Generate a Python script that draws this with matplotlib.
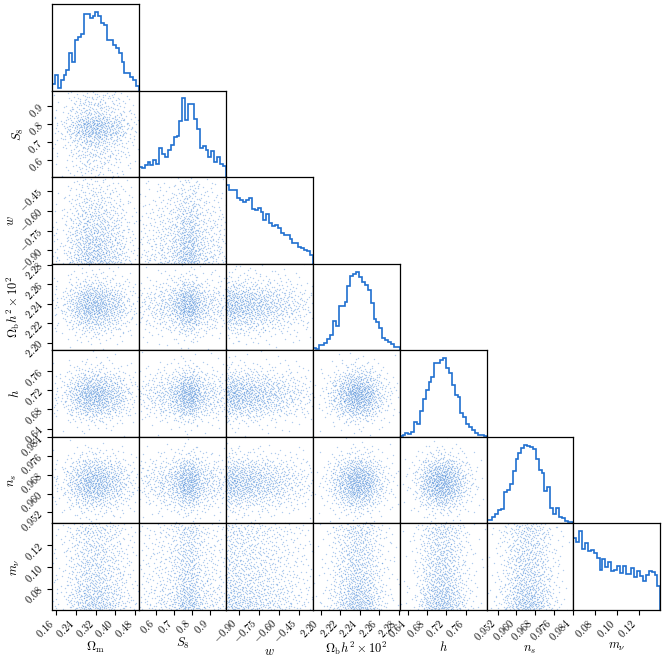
import numpy as np
import matplotlib
matplotlib.use('Agg')
import matplotlib.pyplot as plt

plt.rcParams['mathtext.fontset'] = 'cm'
plt.rcParams['font.family'] = ['DejaVu Serif']

# parameter names, plot ranges and tick labels
labels = [r'$\Omega_{\rm m}$', r'$S_8$', r'$w$', r'$\Omega_{\rm b}h^2\times10^2$',
          r'$h$', r'$n_s$', r'$m_\nu$']
ranges = [(0.142, 0.496), (0.504, 0.987), (-1.0, -0.345), (2.192, 2.281),
          (0.623, 0.803), (0.9473, 0.9842), (0.0604, 0.1398)]
ticks = [['0.16', '0.24', '0.32', '0.40', '0.48'],
         ['0.6', '0.7', '0.8', '0.9'],
         ['-0.90', '-0.75', '-0.60', '-0.45'],
         ['2.20', '2.22', '2.24', '2.26', '2.28'],
         ['0.64', '0.68', '0.72', '0.76'],
         ['0.952', '0.960', '0.968', '0.976', '0.984'],
         ['0.08', '0.10', '0.12']]

# marginal histograms (30 bins each over the plot range), heights read by eye
omega_m_counts = [6, 15, 2, 10, 15, 20, 36, 27, 48, 51, 54, 73, 73, 69, 71,
                  75, 71, 64, 62, 48, 48, 43, 41, 36, 27, 17, 17, 13, 10, 4]
s8_counts = [10, 9, 12, 15, 12, 17, 13, 28, 22, 19, 26, 31, 39, 40, 54,
             76, 55, 71, 71, 56, 46, 28, 30, 26, 19, 25, 15, 19, 13, 11]
w_counts = [75, 70, 70, 70, 63, 61, 59, 61, 63, 52, 51, 53, 49, 42, 47,
            39, 36, 37, 34, 29, 27, 27, 24, 20, 20, 16, 15, 13, 12, 8]
omega_b_counts = [2, 1, 5, 5, 7, 11, 15, 28, 23, 43, 43, 47, 62, 72, 74,
                  76, 71, 66, 63, 58, 46, 30, 27, 22, 12, 10, 8, 6, 3, 3]
h_counts = [1, 2, 4, 3, 5, 14, 12, 25, 36, 45, 52, 57, 70, 70, 73,
            75, 66, 61, 49, 40, 38, 23, 19, 12, 9, 7, 4, 2, 2, 1]
ns_counts = [3, 3, 6, 9, 13, 14, 30, 32, 38, 51, 62, 68, 73, 76, 75,
             74, 72, 62, 52, 49, 31, 35, 15, 9, 15, 6, 5, 2, 1, 1]
mnu_counts = [69, 65, 75, 58, 64, 56, 57, 54, 50, 38, 49, 41, 46, 37, 38,
              42, 35, 42, 34, 34, 40, 31, 37, 32, 28, 33, 37, 36, 33, 23]
counts = [omega_m_counts, s8_counts, w_counts, omega_b_counts,
          h_counts, ns_counts, mnu_counts]

n_points = 900
blue = '#1f6fd0'


def radical_inverse(n, base):
    inv, f = 0.0, 1.0 / base
    while n > 0:
        inv += f * (n % base)
        n //= base
        f /= base
    return inv


def quantiles(cnt, lo, hi, q):
    # inverse of the cumulative histogram
    edges = np.linspace(lo, hi, len(cnt) + 1)
    cdf = np.concatenate([[0.0], np.cumsum(cnt)]) / np.sum(cnt)
    return np.interp(q, cdf, edges)


def panel_points(i, j):
    # each scatter panel: 2D Halton (bases 2, 3) mapped through the two marginals
    start = 1 + 1000 * (i * 7 + j)
    idx = range(start, start + n_points)
    qx = np.array([radical_inverse(k, 2) for k in idx])
    qy = np.array([radical_inverse(k, 3) for k in idx])
    x = quantiles(counts[j], ranges[j][0], ranges[j][1], qx)
    y = quantiles(counts[i], ranges[i][0], ranges[i][1], qy)
    return x, y


n = len(labels)
fig, axes = plt.subplots(n, n, figsize=(6.64, 6.64), dpi=100)
fig.subplots_adjust(left=0.0783, right=0.9945, bottom=0.0813, top=0.994,
                    wspace=0, hspace=0)

for i in range(n):
    for j in range(n):
        ax = axes[i, j]
        if j > i:
            ax.set_axis_off()
            continue
        if i == j:
            edges = np.linspace(ranges[i][0], ranges[i][1], len(counts[i]) + 1)
            ax.stairs(counts[i], edges, color=blue, lw=1.2)
            ax.set_ylim(0, 1.1 * max(counts[i]))
            ax.set_yticks([])
        else:
            x, y = panel_points(i, j)
            ax.plot(x, y, '.', ms=2.0, mew=0, color=blue, alpha=0.35)
            ax.set_ylim(ranges[i])
        ax.set_xlim(ranges[j])
        ax.tick_params(direction='out', length=3.5, width=0.8, labelsize=7.5, pad=1.5)

        if i == n - 1:
            vals = [float(t) for t in ticks[j]]
            ax.set_xticks(vals)
            ax.set_xticklabels(['$' + t + '$' for t in ticks[j]], rotation=45, ha='right')
            ax.set_xlabel(labels[j], fontsize=9, labelpad=0)
        else:
            ax.set_xticks([])
        if j == 0 and i > 0:
            vals = [float(t) for t in ticks[i]]
            ax.set_yticks(vals)
            ax.set_yticklabels(['$' + t + '$' for t in ticks[i]], rotation=45)
            ax.set_ylabel(labels[i], fontsize=9, labelpad=0)
        elif i != j:
            ax.set_yticks([])
        for s in ax.spines.values():
            s.set_linewidth(0.9)

plt.savefig('out.png', dpi=100)
